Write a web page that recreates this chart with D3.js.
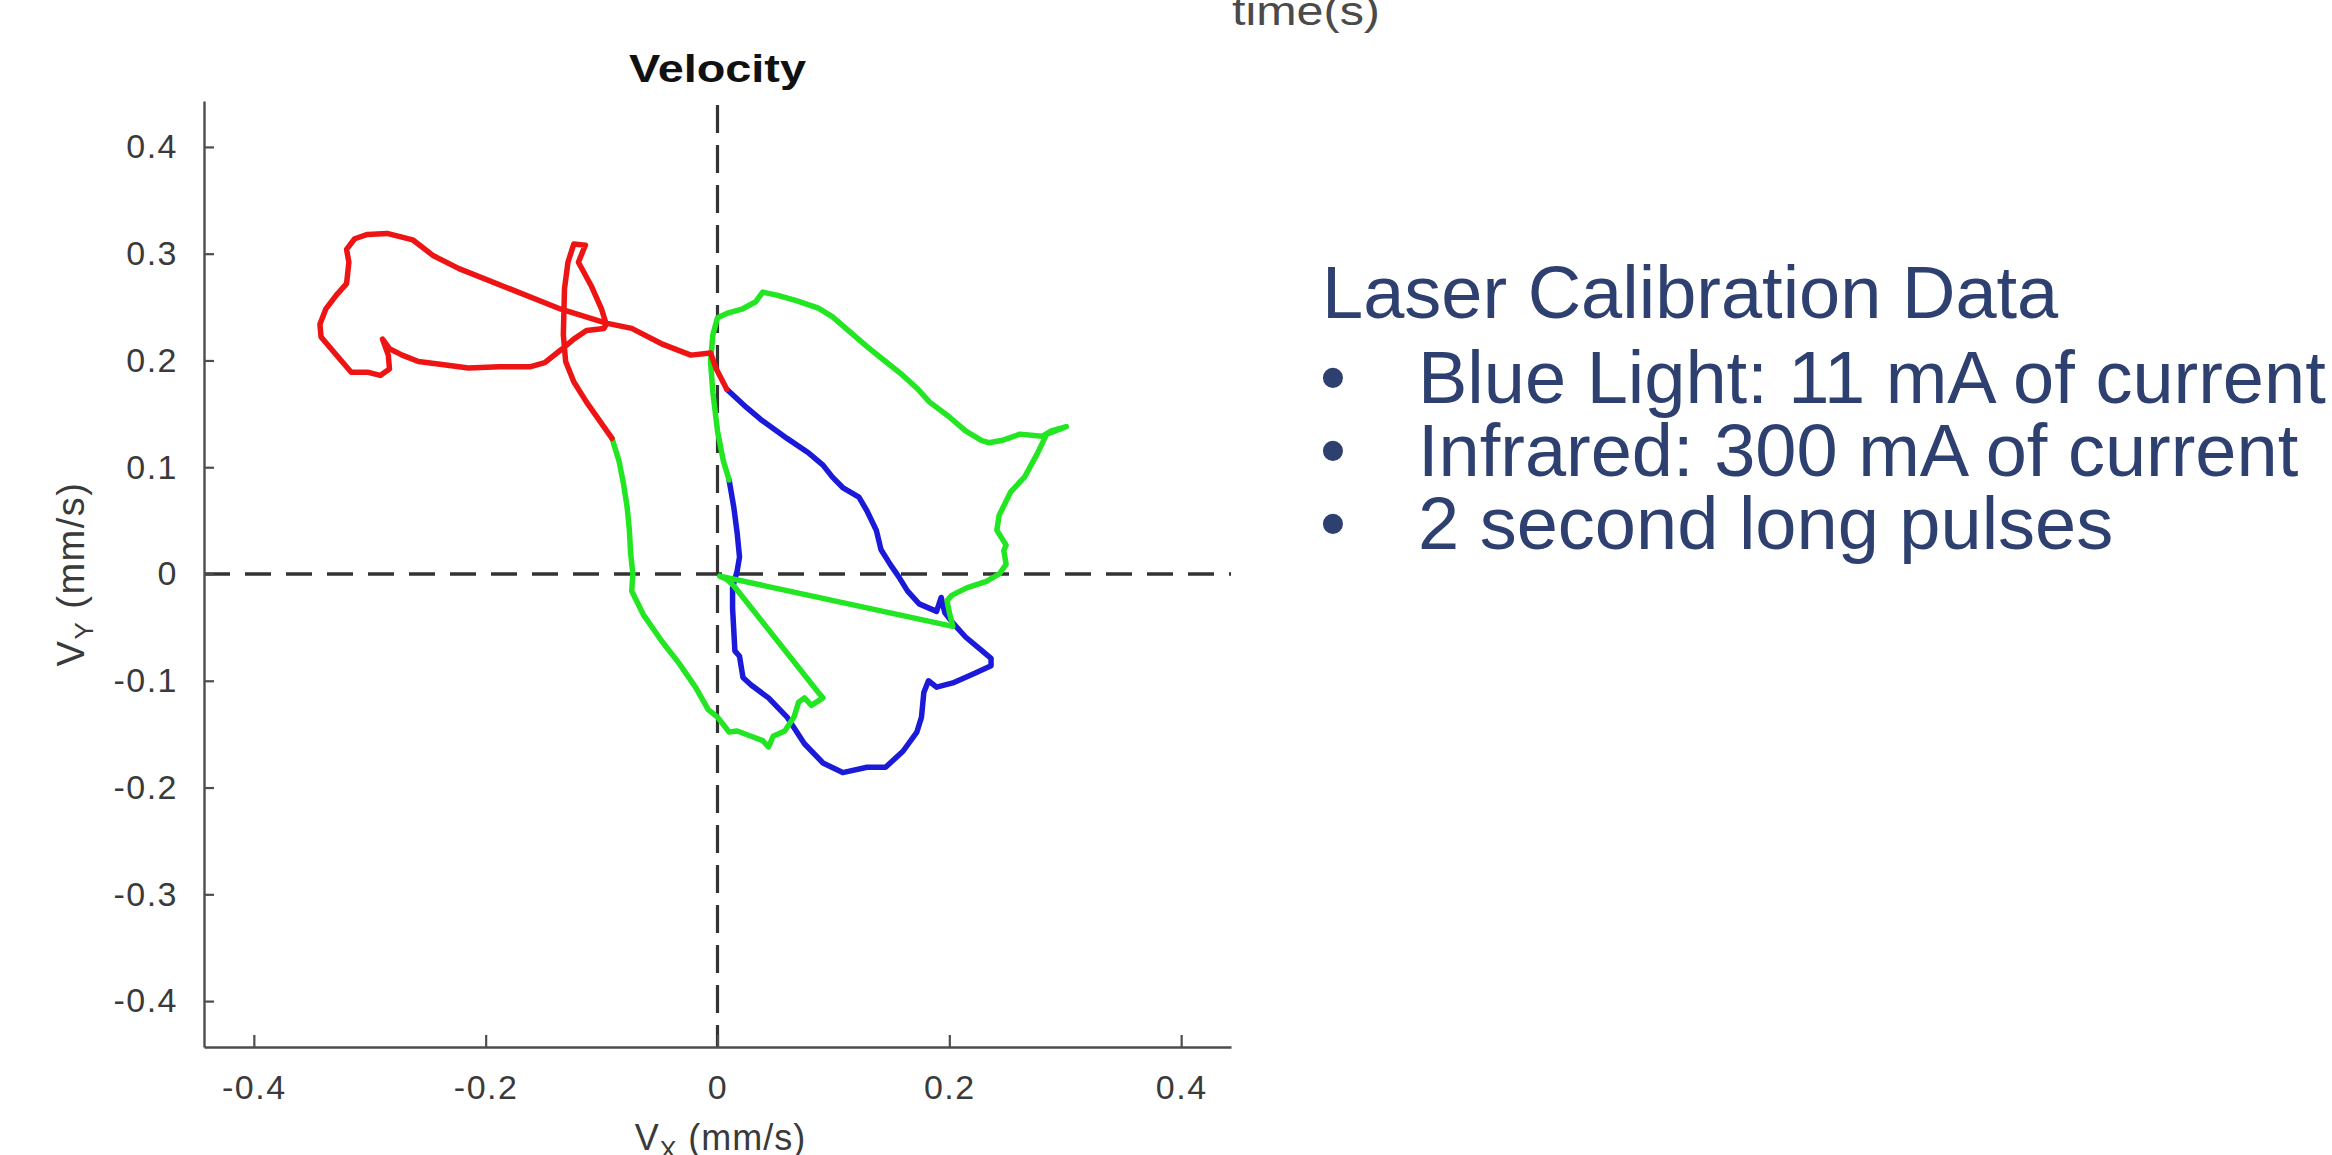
<!DOCTYPE html>
<html>
<head>
<meta charset="utf-8">
<script src="https://cdn.jsdelivr.net/npm/d3@7"></script>
<style>
  html, body { margin: 0; padding: 0; background: #ffffff; }
  svg { display: block; }
</style>
</head>
<body>
<script>
// ---------------- data ----------------
const xDomain = [-0.443, 0.443];
const yDomain = [-0.443, 0.443];
const xTicks = [-0.4, -0.2, 0, 0.2, 0.4];
const xTickLabels = ["-0.4", "-0.2", "0", "0.2", "0.4"];
const yTicks = [-0.4, -0.3, -0.2, -0.1, 0, 0.1, 0.2, 0.3, 0.4];
const yTickLabels = ["-0.4", "-0.3", "-0.2", "-0.1", "0", "0.1", "0.2", "0.3", "0.4"];

const chartTitle = "Velocity";
const topText = "time(s)";
const notesTitle = "Laser Calibration Data";
const notesBullets = ["Blue Light: 11 mA of current", "Infrared: 300 mA of current", "2 second long pulses"];

// red segment (Vx, Vy in mm/s)
const redVx = [0.008, -0.001, -0.006, -0.023, -0.047, -0.074, -0.096, -0.135, -0.179, -0.223, -0.245, -0.263,
  -0.285, -0.302, -0.313, -0.320, -0.318, -0.320, -0.329, -0.338, -0.343, -0.342, -0.331, -0.316, -0.302,
  -0.291, -0.283, -0.284, -0.289, -0.283, -0.272, -0.258, -0.236, -0.215, -0.188, -0.162, -0.149, -0.135,
  -0.124, -0.113, -0.098, -0.096, -0.100, -0.109, -0.120, -0.114, -0.124, -0.129, -0.132, -0.133, -0.131,
  -0.124, -0.113, -0.091];
const redVy = [0.173, 0.192, 0.207, 0.205, 0.215, 0.230, 0.235, 0.248, 0.267, 0.286, 0.298, 0.313,
  0.319, 0.318, 0.314, 0.304, 0.292, 0.272, 0.261, 0.248, 0.234, 0.222, 0.208, 0.189, 0.189,
  0.186, 0.192, 0.205, 0.220, 0.211, 0.205, 0.199, 0.196, 0.193, 0.194, 0.194, 0.198, 0.210,
  0.220, 0.228, 0.230, 0.234, 0.248, 0.270, 0.292, 0.308, 0.309, 0.292, 0.267, 0.224, 0.199,
  0.180, 0.161, 0.127];

// green segment
const greenVx = [-0.091, -0.085, -0.081, -0.078, -0.076, -0.075, -0.073, -0.074, -0.064, -0.048, -0.033,
  -0.019, -0.008, 0.000, 0.010, 0.017, 0.029, 0.039, 0.044, 0.048, 0.058, 0.066, 0.070, 0.075, 0.081,
  0.091, 0.087, 0.014, 0.008, 0.002, 0.203, 0.200, 0.198, 0.202, 0.215, 0.232, 0.243, 0.249, 0.247,
  0.249, 0.241, 0.243, 0.253, 0.265, 0.276, 0.284, 0.301, 0.288, 0.280, 0.261, 0.245, 0.234, 0.228,
  0.214, 0.199, 0.183, 0.172, 0.160, 0.145, 0.129, 0.114, 0.099, 0.087, 0.068, 0.052, 0.039, 0.033,
  0.021, 0.008, 0.000, -0.004, -0.006, -0.004, 0.000, 0.005, 0.010];
const greenVy = [0.127, 0.106, 0.084, 0.063, 0.041, 0.020, 0.000, -0.016, -0.038, -0.063, -0.084,
  -0.106, -0.127, -0.134, -0.148, -0.147, -0.152, -0.156, -0.162, -0.152, -0.147, -0.134, -0.120, -0.116, -0.123,
  -0.116, -0.111, -0.011, -0.005, -0.002, -0.049, -0.036, -0.025, -0.020, -0.013, -0.007, 0.000, 0.009, 0.022,
  0.027, 0.041, 0.055, 0.077, 0.091, 0.113, 0.131, 0.138, 0.134, 0.129, 0.131, 0.125, 0.123, 0.125,
  0.134, 0.148, 0.161, 0.174, 0.186, 0.199, 0.213, 0.227, 0.241, 0.249, 0.256, 0.261, 0.264, 0.255,
  0.248, 0.244, 0.240, 0.224, 0.199, 0.170, 0.134, 0.106, 0.088];

// blue segment
const blueVx = [0.010, 0.014, 0.017, 0.019, 0.017, 0.013, 0.013, 0.014, 0.015, 0.019, 0.022, 0.029, 0.044,
  0.060, 0.075, 0.091, 0.108, 0.129, 0.145, 0.160, 0.172, 0.176, 0.178, 0.182, 0.189, 0.203, 0.222,
  0.236, 0.236, 0.226, 0.214, 0.204, 0.196, 0.193, 0.189, 0.174, 0.164, 0.156, 0.149, 0.141, 0.137,
  0.129, 0.122, 0.108, 0.099, 0.091, 0.079, 0.060, 0.037, 0.025, 0.008];
const blueVy = [0.088, 0.063, 0.038, 0.016, 0.003, -0.013, -0.032, -0.052, -0.072, -0.077, -0.097, -0.104, -0.116,
  -0.134, -0.159, -0.177, -0.186, -0.181, -0.181, -0.166, -0.148, -0.134, -0.111, -0.100, -0.106, -0.102, -0.093,
  -0.086, -0.079, -0.070, -0.059, -0.047, -0.036, -0.022, -0.035, -0.028, -0.016, -0.002, 0.009, 0.023, 0.041,
  0.059, 0.072, 0.081, 0.091, 0.102, 0.113, 0.127, 0.145, 0.156, 0.173];

const seriesColors = { blue: "#1a1ad8", green: "#22e622", red: "#ee1414" };

// ---------------- drawing ----------------
const W = 2332, H = 1155;
const FONT = "'Liberation Sans', Arial, Helvetica, sans-serif";
const svg = d3.select("body").append("svg").attr("width", W).attr("height", H)
  .style("font-family", FONT);

const x = d3.scaleLinear().domain(xDomain).range([204, 1231]);
const y = d3.scaleLinear().domain(yDomain).range([1047, 101]);

// top clipped text
svg.append("text").attr("x", 1232).attr("y", 25).attr("font-size", 40).attr("fill", "#4a4a4a")
  .attr("textLength", 148).attr("lengthAdjust", "spacingAndGlyphs").text(topText);

// title
svg.append("text").attr("x", x(0)).attr("y", 82).attr("text-anchor", "middle")
  .attr("font-size", 38).attr("font-weight", "bold").attr("fill", "#111")
  .attr("textLength", 177).attr("lengthAdjust", "spacingAndGlyphs").text(chartTitle);

// dashed zero lines
svg.append("line").attr("x1", x(xDomain[0])).attr("x2", x(xDomain[1])).attr("y1", y(0)).attr("y2", y(0))
  .attr("stroke", "#333").attr("stroke-width", 3.4).attr("stroke-dasharray", "26,15");
svg.append("line").attr("x1", x(0)).attr("x2", x(0)).attr("y1", y(yDomain[1]) + 4).attr("y2", y(yDomain[0]))
  .attr("stroke", "#333").attr("stroke-width", 3.2).attr("stroke-dasharray", "28,12");

// axes
const axisColor = "#4d4d4d";
const gx = svg.append("g").attr("transform", `translate(0,${y(yDomain[0])})`)
  .call(d3.axisBottom(x).tickValues(xTicks).tickFormat((d, i) => xTickLabels[i])
    .tickSizeInner(-12).tickSizeOuter(0).tickPadding(28));
const gy = svg.append("g").attr("transform", `translate(${x(xDomain[0])},0)`)
  .call(d3.axisLeft(y).tickValues(yTicks).tickFormat((d, i) => yTickLabels[i])
    .tickSizeInner(-10).tickSizeOuter(0).tickPadding(26));
[gx, gy].forEach(g => {
  g.select(".domain").attr("stroke", axisColor).attr("stroke-width", 2.4);
  g.selectAll(".tick line").attr("stroke", axisColor).attr("stroke-width", 2.2);
  g.selectAll(".tick text").attr("fill", "#3a3a3a").attr("font-size", 34)
    .attr("letter-spacing", 1.5)
    .style("font-family", FONT);
});

// axis labels
const xl = svg.append("text").attr("x", x(0) + 3).attr("y", 1150).attr("text-anchor", "middle")
  .attr("font-size", 36).attr("fill", "#3a3a3a").attr("letter-spacing", 1);
xl.append("tspan").text("V");
xl.append("tspan").attr("font-size", 25).attr("dy", 9).text("X");
xl.append("tspan").attr("dy", -9).text(" (mm/s)");

const yl = svg.append("text").attr("transform", `translate(84,${y(0)}) rotate(-90)`)
  .attr("text-anchor", "middle").attr("font-size", 38).attr("fill", "#3a3a3a").attr("letter-spacing", 1.5);
yl.append("tspan").text("V");
yl.append("tspan").attr("font-size", 26).attr("dy", 9).text("Y");
yl.append("tspan").attr("dy", -9).text(" (mm/s)");

// series
const line = d3.line().x(d => x(d[0])).y(d => y(d[1]));
const series = [
  { name: "blue", vx: blueVx, vy: blueVy },
  { name: "green", vx: greenVx, vy: greenVy },
  { name: "red", vx: redVx, vy: redVy }
];
series.forEach(s => {
  svg.append("path").datum(d3.zip(s.vx, s.vy))
    .attr("d", line).attr("fill", "none")
    .attr("stroke", seriesColors[s.name]).attr("stroke-width", 5.5)
    .attr("stroke-linejoin", "round").attr("stroke-linecap", "round");
});

// notes block
const noteColor = "#2e4070";
const notes = svg.append("g").attr("fill", noteColor).attr("font-size", 74);
notes.append("text").attr("x", 1322).attr("y", 318).text(notesTitle);
const bulletBaselines = [403, 476, 549];
notesBullets.forEach((t, i) => {
  const by = bulletBaselines[i];
  notes.append("text").attr("x", 1320).attr("y", by).text("\u2022");
  notes.append("text").attr("x", 1418).attr("y", by).text(t);
});
</script>
</body>
</html>
